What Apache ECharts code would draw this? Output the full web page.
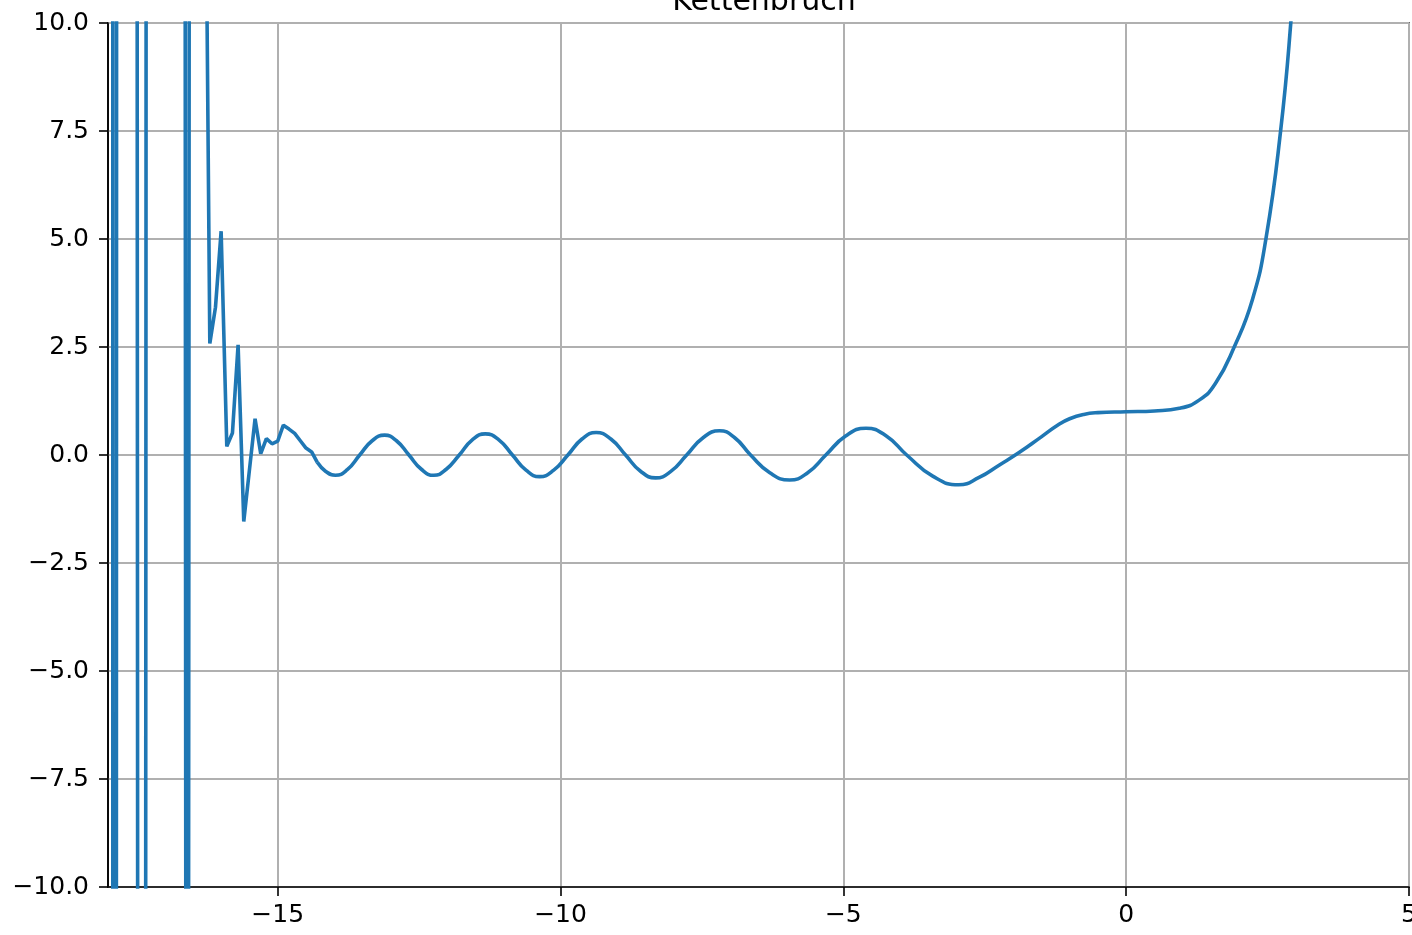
<!DOCTYPE html>
<html>
<head>
<meta charset="utf-8">
<script src="https://cdn.jsdelivr.net/npm/echarts@6/dist/echarts.min.js"></script>
<style>
html,body{margin:0;padding:0;background:#fff;}
#chart{width:1412px;height:935px;}
</style>
</head>
<body>
<div id="chart"></div>
<script>
// Chart title
const titleText = 'Kettenbruch';

// Tick positions
const xTicks = [-15, -10, -5, 0, 5];
const yTicks = [-10, -7.5, -5, -2.5, 0, 2.5, 5, 7.5, 10];

// Jagged region (sampled every 0.1), values beyond ±10 run off the plot
const jaggedX = [-18.0, -17.9, -17.8, -17.7, -17.6, -17.5, -17.4, -17.3, -17.2, -17.1,
                 -17.0, -16.9, -16.8, -16.7, -16.6, -16.5, -16.4, -16.3, -16.2, -16.1,
                 -16.0, -15.9, -15.8, -15.7, -15.6, -15.5, -15.4, -15.3, -15.2, -15.1,
                 -15.0, -14.9, -14.8, -14.7, -14.6, -14.5, -14.4, -14.3];
const jaggedY = [1700, -300, 300, 200, 100, 50, -200, 86, 60, 40,
                 30, 50, 100, 140, -60, 140, 60, 18, 2.58, 3.42,
                 5.18, 0.2, 0.51, 2.55, -1.54, -0.35, 0.84, 0.03, 0.38, 0.26,
                 0.32, 0.69, 0.6, 0.5, 0.33, 0.16, 0.07, -0.17];

// Smooth region (readings along the curve)
const smoothX = [-14.3, -14.15, -13.98, -13.77, -13.55, -13.33, -13.11, -12.90, -12.68, -12.46,
                 -12.24, -12.02, -11.79, -11.56, -11.33, -11.09, -10.85, -10.61, -10.37, -10.12,
                 -9.87, -9.62, -9.37, -9.11, -8.85, -8.59, -8.32, -8.05, -7.77, -7.48,
                 -7.19, -6.92, -6.64, -6.30, -5.95, -5.63, -5.31, -4.96, -4.60, -4.24,
                 -3.88, -3.42, -2.96, -2.60, -2.24, -1.90, -1.50, -1.20, -1.00, -0.75,
                 -0.50, 0.00, 0.50, 0.94, 1.29, 1.58, 1.91, 2.23, 2.47, 2.73,
                 2.91, 3.10];
const smoothY = [-0.17, -0.38, -0.47, -0.34, 0.0, 0.33, 0.46, 0.33, 0.0, -0.33,
                 -0.47, -0.33, 0.0, 0.35, 0.49, 0.35, 0.0, -0.35, -0.50, -0.35,
                 0.0, 0.37, 0.52, 0.37, 0.0, -0.37, -0.53, -0.38, 0.0, 0.40,
                 0.56, 0.40, 0.0, -0.41, -0.58, -0.41, 0.0, 0.44, 0.62, 0.44,
                 0.0, -0.49, -0.69, -0.52, -0.23, 0.05, 0.42, 0.70, 0.84, 0.94,
                 0.98, 1.0, 1.02, 1.08, 1.27, 1.66, 2.5, 3.59, 5.0, 7.5,
                 10.0, 13.5];

const lineColor = '#1f77b4';
const fontFam = 'DejaVu Sans';
const minus = s => String(s).replace('-', '\u2212');

const chart = echarts.init(document.getElementById('chart'), null, {renderer: 'canvas'});
chart.setOption({
  animation: false,
  backgroundColor: '#fff',
  title: {
    text: titleText,
    left: 759,
    textAlign: 'center',
    top: -18,
    textStyle: {fontFamily: fontFam, fontSize: 30, fontWeight: 'normal', color: '#000', lineHeight: 30}
  },
  grid: {left: 108, right: 3, top: 23, bottom: 48, outerBoundsMode: 'none', containLabel: false,
         show: true, borderColor: '#000', borderWidth: 1.6, backgroundColor: 'transparent'},
  xAxis: {
    type: 'value', min: -18, max: 5,
    axisLine: {show: true, onZero: false, lineStyle: {color: '#000', width: 1.6}},
    axisTick: {show: true, length: 9, customValues: xTicks, lineStyle: {color: '#000', width: 1.6}},
    axisLabel: {show: true, customValues: xTicks, margin: 16, color: '#000', fontFamily: fontFam, fontSize: 25, formatter: v => minus(v)},
    splitLine: {show: true, lineStyle: {color: '#b0b0b0', width: 2}}
  },
  yAxis: {
    type: 'value', min: -10, max: 10, interval: 2.5,
    axisLine: {show: true, onZero: false, lineStyle: {color: '#000', width: 1.6}},
    axisTick: {show: true, length: 9, lineStyle: {color: '#000', width: 1.6}},
    axisLabel: {show: true, margin: 19, color: '#000', fontFamily: fontFam, fontSize: 25, formatter: v => minus(v.toFixed(1))},
    splitLine: {show: true, lineStyle: {color: '#b0b0b0', width: 2}}
  },
  series: [
    {
      type: 'line', data: jaggedX.map((x, i) => [x, jaggedY[i]]),
      showSymbol: false, smooth: false, clip: true,
      lineStyle: {color: lineColor, width: 3.6}, z: 3
    },
    {
      type: 'line', data: smoothX.map((x, i) => [x, smoothY[i]]),
      showSymbol: false, smooth: 0.5, clip: true,
      lineStyle: {color: lineColor, width: 3.6}, z: 3
    }
  ]
});
</script>
</body>
</html>
